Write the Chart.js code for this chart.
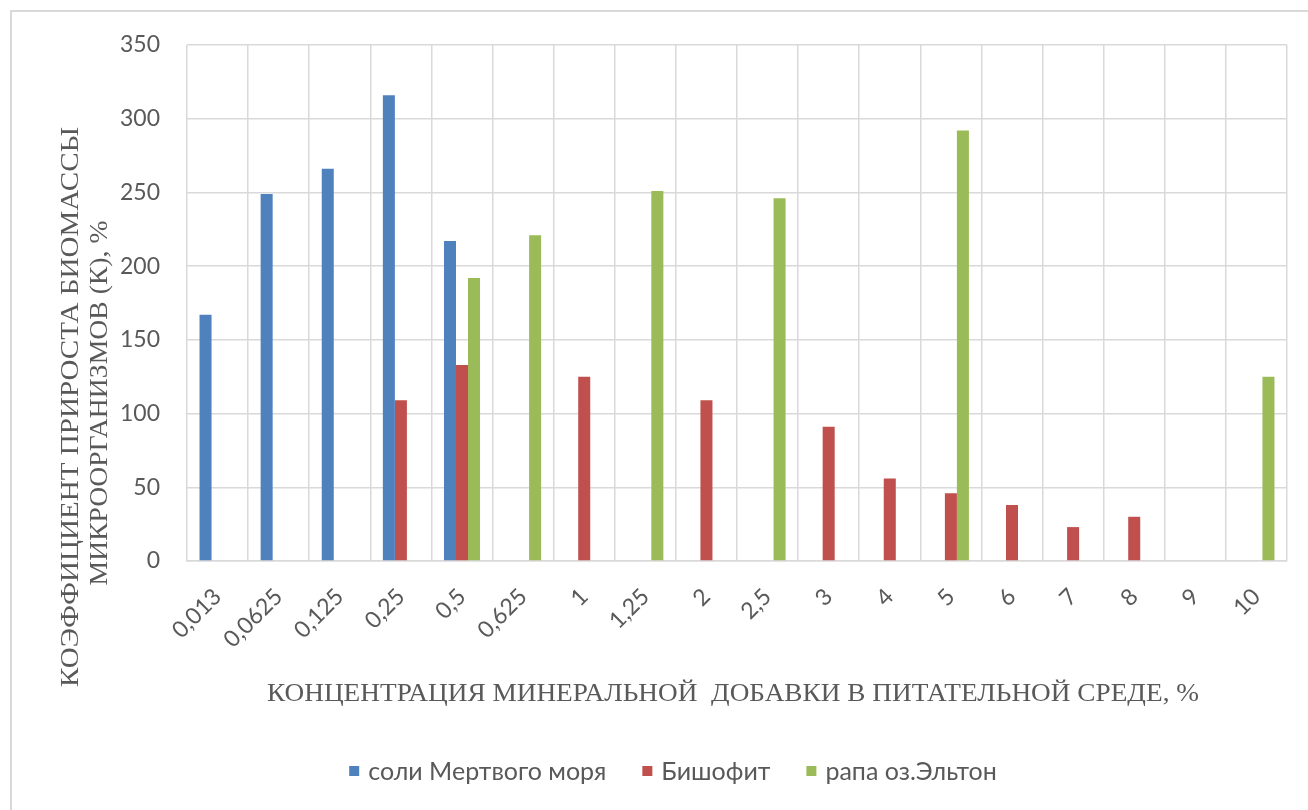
<!DOCTYPE html>
<html>
<head>
<meta charset="utf-8">
<script src="https://cdn.jsdelivr.net/npm/chart.js@4.4.1/dist/chart.umd.min.js"></script>
<style>
  html, body { margin: 0; padding: 0; background: #ffffff; }
  canvas { display: block; }
</style>
</head>
<body>
<canvas id="chart" width="1308" height="810"></canvas>
<script>
// Concentration of the mineral additive, % (category axis)
const concentrations = ['0,013', '0,0625', '0,125', '0,25', '0,5', '0,625', '1', '1,25', '2', '2,5', '3', '4', '5', '6', '7', '8', '9', '10'];

// Biomass growth coefficient K, % for each additive
const deadSeaSalts = [167, 249, 266, 316, 217, null, null, null, null, null, null, null, null, null, null, null, null, null];
const bischofite   = [null, null, null, 109, 133, null, 125, null, 109, null, 91, 56, 46, 38, 23, 30, null, null];
const eltonBrine   = [null, null, null, null, 192, 221, null, 251, null, 246, null, null, 292, null, null, null, null, 125];

const seriesNames  = ['соли Мертвого моря', 'Бишофит', 'рапа оз.Эльтон'];
const seriesColors = ['#4F81BD', '#C0504D', '#9BBB59'];

// Value axis range
const yMin = 0;
const yMax = 350;
const yStep = 50;

const xTitle = 'КОНЦЕНТРАЦИЯ МИНЕРАЛЬНОЙ  ДОБАВКИ В ПИТАТЕЛЬНОЙ СРЕДЕ, %';
const yTitleLines = ['КОЭФФИЦИЕНТ ПРИРОСТА БИОМАССЫ', 'МИКРООРГАНИЗМОВ (К), %'];

const TEXT_COLOR = '#595959';
const GRID_COLOR = '#D9D9D9';
const SANS = 'Lato, "Open Sans", "Liberation Sans", sans-serif';
const SERIF = '"Liberation Serif", "DejaVu Serif", serif';

// Draws text centred on (cx, cy), stretched horizontally to the given width
function drawFitted(ctx, text, cx, cy, width, font) {
  ctx.save();
  ctx.font = font;
  const natural = ctx.measureText(text).width;
  ctx.translate(cx, cy);
  ctx.scale(width / natural, 1);
  ctx.textAlign = 'center';
  ctx.textBaseline = 'middle';
  ctx.fillText(text, 0, 0);
  ctx.restore();
}

// White background and the outer frame of the chart box
const framePlugin = {
  id: 'frame',
  beforeDraw(chart) {
    const ctx = chart.ctx;
    ctx.save();
    ctx.fillStyle = '#ffffff';
    ctx.fillRect(0, 0, chart.width, chart.height);
    ctx.strokeStyle = '#D9D9D9';
    ctx.lineWidth = 2;
    ctx.beginPath();
    ctx.moveTo(11, chart.height);
    ctx.lineTo(11, 11);
    ctx.lineTo(chart.width, 11);
    ctx.stroke();
    ctx.restore();
  }
};

// Axis titles and the legend row under the plot
const annotationsPlugin = {
  id: 'annotations',
  afterDraw(chart) {
    const ctx = chart.ctx;
    const area = chart.chartArea;
    ctx.save();
    ctx.fillStyle = TEXT_COLOR;

    // horizontal axis title
    drawFitted(ctx, xTitle, (area.left + area.right) / 2 - 4, 694, 932, '25px ' + SERIF);

    // vertical axis title, two rotated lines
    const yLines = [
      { text: yTitleLines[0], x: 71, y: 407, len: 560 },
      { text: yTitleLines[1], x: 100, y: 403, len: 365 }
    ];
    yLines.forEach(l => {
      ctx.save();
      ctx.translate(l.x, l.y);
      ctx.rotate(-Math.PI / 2);
      drawFitted(ctx, l.text, 0, 0, l.len, '25px ' + SERIF);
      ctx.restore();
    });

    // legend
    const cy = 771;
    const box = 10;
    const boxGap = 9;
    const itemGap = 36;
    ctx.font = '25px ' + SANS;
    ctx.textBaseline = 'middle';
    ctx.textAlign = 'left';
    const items = chart.data.datasets.map(ds => ({ label: ds.label, color: ds.backgroundColor }));
    const widths = items.map(it => box + boxGap + ctx.measureText(it.label).width);
    const total = widths.reduce((a, b) => a + b, 0) + itemGap * (items.length - 1);
    let x = 673 - total / 2;
    items.forEach((it, i) => {
      ctx.fillStyle = it.color;
      ctx.fillRect(x, cy - box / 2, box, box);
      ctx.fillStyle = TEXT_COLOR;
      ctx.fillText(it.label, x + box + boxGap, cy + 1);
      x += widths[i] + itemGap;
    });
    ctx.restore();
  }
};

const seriesValues = [deadSeaSalts, bischofite, eltonBrine];

new Chart(document.getElementById('chart'), {
  type: 'bar',
  data: {
    labels: concentrations,
    datasets: seriesValues.map((vals, i) => ({
      label: seriesNames[i],
      data: vals,
      backgroundColor: seriesColors[i],
      borderWidth: 0,
      categoryPercentage: 0.59,
      barPercentage: 1.0
    }))
  },
  options: {
    responsive: false,
    animation: false,
    devicePixelRatio: 1,
    layout: { padding: { top: 45, right: 21, bottom: 149, left: 0 } },
    plugins: {
      legend: { display: false },
      tooltip: { enabled: false },
      title: { display: false }
    },
    scales: {
      x: {
        grid: { color: GRID_COLOR, lineWidth: 1.5, drawTicks: false, offset: true },
        border: { color: GRID_COLOR, width: 1.5 },
        ticks: {
          color: TEXT_COLOR,
          font: { family: SANS, size: 23 },
          minRotation: 45,
          maxRotation: 45,
          autoSkip: false,
          padding: 22
        },
        afterFit(scale) { scale.height = 100; }
      },
      y: {
        min: yMin,
        max: yMax,
        grid: { color: GRID_COLOR, lineWidth: 1.5, drawTicks: false },
        border: { display: false },
        ticks: {
          stepSize: yStep,
          color: TEXT_COLOR,
          font: { family: SANS, size: 23 },
          padding: 27
        },
        afterFit(scale) { scale.width = 187; }
      }
    }
  },
  plugins: [framePlugin, annotationsPlugin]
});
</script>
</body>
</html>
